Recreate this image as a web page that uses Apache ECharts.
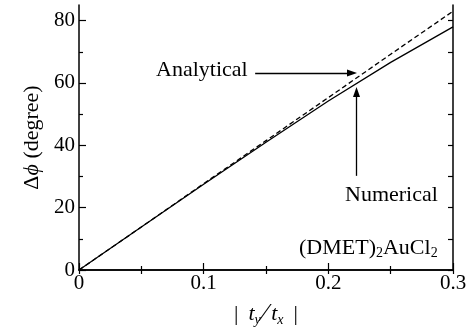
<!DOCTYPE html>
<html>
<head>
<meta charset="utf-8">
<script src="https://cdn.jsdelivr.net/npm/echarts@6/dist/echarts.min.js"></script>
<style>
html, body { margin: 0; padding: 0; background: #fff; }
#chart { width: 472px; height: 332px; }
</style>
</head>
<body>
<div id="chart"></div>
<script>
var ratio = [0, 0.05, 0.1, 0.15, 0.2, 0.25, 0.3];
var analytical = [0, 13.8, 27.7, 41.5, 55.3, 69.2, 83.0];
var numerical = [0, 13.8, 27.5, 41.0, 54.2, 66.6, 78.0];
var yMajor = [0, 20, 40, 60, 80];
var yMinor = [10, 30, 50, 70];
var yAll = [0, 10, 20, 30, 40, 50, 60, 70, 80];

var font = '"Liberation Serif", "DejaVu Serif", serif';

function pairs(xs, ys) {
    return xs.map(function (x, i) { return [x, ys[i]]; });
}

var container = document.getElementById('chart');
var opts = {
    animation: false,
    grid: { left: 79, right: 19, top: 5, bottom: 58.5 },
    xAxis: [
        {
            type: 'value', min: 0, max: 0.3, interval: 0.1,
            name: '{barL||}{it|t}{sub|y}{sl|⁄}{it|t}{sub|x}{barR||}',
            nameLocation: 'middle', nameGap: 31,
            nameTextStyle: {
                fontFamily: font, fontSize: 22, color: '#000',
                rich: {
                    barL: { fontFamily: font, fontSize: 22, color: '#000', padding: [0, 10, 0, 0] },
                    barR: { fontFamily: font, fontSize: 22, color: '#000', padding: [0, 0, 0, 10] },
                    it: { fontFamily: font, fontSize: 22, fontStyle: 'italic', color: '#000' },
                    sub: { fontFamily: font, fontSize: 14, fontStyle: 'italic', color: '#000', verticalAlign: 'bottom', padding: [10, 0, 0, 0] },
                    sl: { fontFamily: font, fontSize: 26, color: '#000', padding: [0, 4, 0, 2] }
                }
            },
            axisLine: { lineStyle: { color: '#000', width: 1.5 } },
            axisTick: { inside: true, length: 7, lineStyle: { color: '#000', width: 1.2 } },
            minorTick: { show: true, splitNumber: 2, length: 4, lineStyle: { color: '#000', width: 1.2 } },
            axisLabel: { fontFamily: font, fontSize: 21, color: '#000', margin: 3 },
            splitLine: { show: false }
        },
        {
            type: 'value', min: 0, max: 0.3, interval: 0.05, position: 'top',
            axisLine: { lineStyle: { color: '#000', width: 1.5 } },
            axisTick: { inside: true, length: 4, lineStyle: { color: '#000', width: 1.2 } },
            axisLabel: { show: false },
            splitLine: { show: false }
        }
    ],
    yAxis: [
        {
            type: 'value', min: 0, max: 85,
            name: '{n|Δ}{it|ϕ}{n| (degree)}',
            nameLocation: 'middle', nameGap: 36, nameRotate: 90,
            nameTextStyle: {
                rich: {
                    n: { fontFamily: font, fontSize: 22, color: '#000' },
                    it: { fontFamily: font, fontSize: 22, fontStyle: 'italic', color: '#000' }
                }
            },
            axisLine: { lineStyle: { color: '#000', width: 1.5 } },
            axisTick: { inside: true, length: 7, customValues: yMajor, lineStyle: { color: '#000', width: 1.2 } },
            axisLabel: { customValues: yMajor, fontFamily: font, fontSize: 21, color: '#000', margin: 4 },
            splitLine: { show: false }
        },
        {
            type: 'value', min: 0, max: 85, position: 'left',
            axisLine: { show: false },
            axisTick: { inside: true, length: 4, customValues: yMinor, lineStyle: { color: '#000', width: 1.2 } },
            axisLabel: { show: false },
            splitLine: { show: false }
        },
        {
            type: 'value', min: 0, max: 85, position: 'right',
            axisLine: { lineStyle: { color: '#000', width: 1.5 } },
            axisTick: { inside: true, length: 5, customValues: yAll, lineStyle: { color: '#000', width: 1.2 } },
            axisLabel: { show: false },
            splitLine: { show: false }
        }
    ],
    series: [
        {
            name: 'Analytical', type: 'line', showSymbol: false,
            data: pairs(ratio, analytical),
            lineStyle: { color: '#000', width: 1.3, type: [5, 3] },
            markLine: {
                silent: true, symbol: ['none', 'triangle'], symbolSize: [7, 10],
                label: { show: false },
                lineStyle: { color: '#000', width: 1.3, type: 'solid' },
                data: [
                    [{ coord: [0.1413, 63.2] }, { coord: [0.219, 63.2] }]
                ]
            }
        },
        {
            name: 'Numerical', type: 'line', showSymbol: false,
            data: pairs(ratio, numerical),
            lineStyle: { color: '#000', width: 1.3 },
            markLine: {
                silent: true, symbol: ['none', 'triangle'], symbolSize: [7, 10],
                label: { show: false },
                lineStyle: { color: '#000', width: 1.3, type: 'solid' },
                data: [
                    [{ coord: [0.2226, 30.2] }, { coord: [0.2226, 57.1] }]
                ]
            }
        }
    ],
    graphic: [
        {
            type: 'text', left: 156, top: 59,
            style: { text: 'Analytical', font: '22px ' + font, fill: '#000' }
        },
        {
            type: 'text', left: 345, top: 184,
            style: { text: 'Numerical', font: '22px ' + font, fill: '#000' }
        },
        {
            type: 'text', left: 299, top: 237,
            style: {
                text: '{n|(DMET)}{s|2}{n|AuCl}{s|2}',
                rich: {
                    n: { fontFamily: font, fontSize: 22, fill: '#000' },
                    s: { fontFamily: font, fontSize: 14, fill: '#000', verticalAlign: 'bottom', padding: [10, 0, 0, 0] }
                }
            }
        }
    ]
};
echarts.init(container).setOption(opts);
</script>
</body>
</html>
